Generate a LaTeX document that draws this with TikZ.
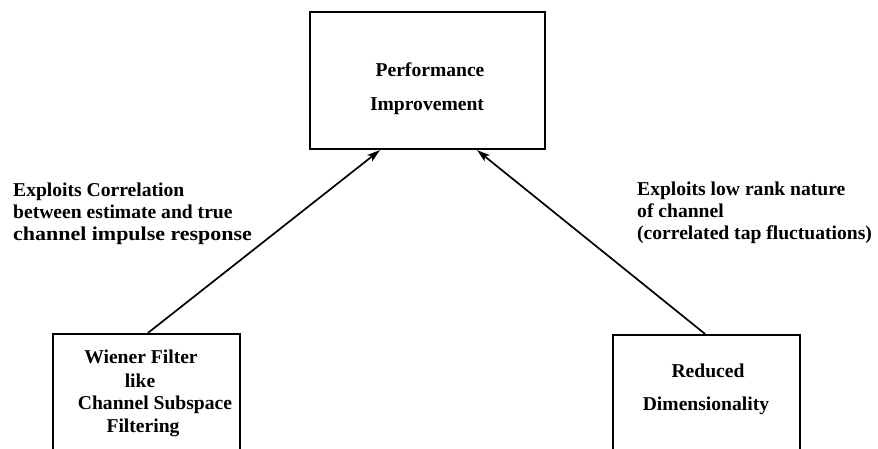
\documentclass[tikz,border=0pt]{standalone}
\usepackage{fontspec}
\setmainfont{Liberation Serif}
\usetikzlibrary{arrows.meta,calc}
\begin{document}
\begin{tikzpicture}[x=1pt,y=-1pt,
  box/.style={draw,line width=2.2pt,minimum width=#1,inner sep=0},
  txt/.style={inner sep=0,font=\fontsize{19.6}{22}\selectfont\bfseries,anchor=base},
  lbl/.style={inner sep=0,font=\fontsize{19.6}{22}\selectfont\bfseries,anchor=base west},
  conn/.style={line width=1.7pt,-{Stealth[length=13pt,width=8pt,inset=3pt]}}]
\useasboundingbox (0,0) rectangle (878,448);
\clip (0,0) rectangle (878,448);
% boxes
\node[box=235pt,minimum height=137pt] (perf) at (427.5,80.5) {};
\node[box=187pt,minimum height=160pt] (wf) at (146.5,414) {};
\node[box=187pt,minimum height=160pt] (rd) at (706.5,415) {};
% box texts
\node[txt] (p1) at (430,76) {Performance};
\node[txt] (p2) at (427,110) {Improvement};
\node[txt] (w1) at (141,363) {Wiener Filter};
\node[txt] (w2) at (140,387) {like};
\node[txt] (w3) at (155,409) {Channel Subspace};
\node[txt] (w4) at (143,432) {Filtering};
\node[txt] (r1) at (708,377) {Reduced};
\node[txt] (r2) at (706,410) {Dimensionality};
% labels
\node[lbl] (la1) at (13,196) {Exploits Correlation};
\node[lbl] (la2) at (13,218) {between estimate and true};
\node[lbl] (la3) at (13,240) {\scalebox{1.12}[1]{channel impulse response}};
\node[lbl] (ra1) at (637,195) {Exploits low rank nature};
\node[lbl] (ra2) at (637,217) {of channel};
\node[lbl] (ra3) at (637,239) {(correlated tap fluctuations)};
% connectors
\coordinate (tipL) at ($(perf.south)+(-47.5,0)$);
\coordinate (tipR) at ($(perf.south)+(49.5,0)$);
\draw[conn] ($(wf.north)+(1.5,0)$) -- (tipL);
\draw[conn] ($(rd.north)+(-1.5,0)$) -- (tipR);
\end{tikzpicture}
\end{document}
